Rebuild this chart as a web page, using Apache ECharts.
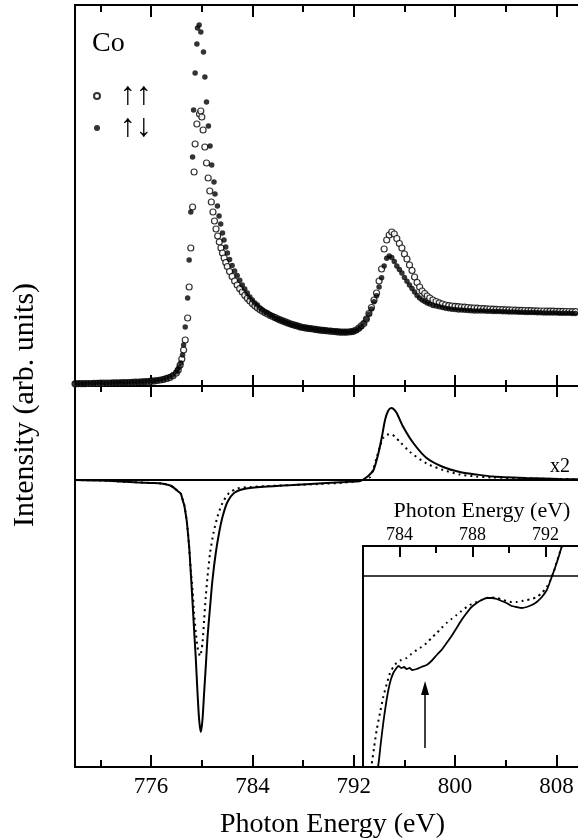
<!DOCTYPE html>
<html><head><meta charset="utf-8">
<script src="https://cdn.jsdelivr.net/npm/echarts@6/dist/echarts.min.js"></script>
<style>html,body{margin:0;padding:0;background:#fff}#c{width:578px;height:839px}</style>
</head><body><div id="c"></div>
<script>
const FONT = '"Liberation Serif","Times New Roman",serif';

// tick values (eV)
const energyTicksMajor = [776, 784, 792, 800, 808];
const energyTicksMinor = [772, 780, 788, 796, 804];
const insetTicksMajor = [784, 788, 792];
const insetTicksMinor = [786, 790];

// top panel: absorption, parallel (open circles)
const absUU = [
[770.00,2.2],[770.25,2.3],[770.50,2.3],[770.75,2.4],[771.00,2.5],[771.25,2.5],[771.50,2.6],[771.75,2.7],
[772.00,2.8],[772.25,2.8],[772.50,2.9],[772.75,3.0],[773.00,3.1],[773.25,3.2],[773.50,3.2],[773.75,3.3],
[774.00,3.4],[774.25,3.5],[774.50,3.6],[774.75,3.8],[775.00,3.9],[775.25,4.1],[775.50,4.3],[775.75,4.5],
[776.00,4.8],[776.25,5.1],[776.50,5.5],[776.75,6.0],[777.00,6.7],[777.25,7.6],[777.50,8.7],[777.75,10.4],
[778.00,13],[778.15,16],[778.30,21],[778.43,27],[778.57,36],[778.70,46],[778.89,68],[779.01,99],
[779.14,138],[779.28,179],[779.40,214],[779.48,242],[779.62,262],[779.83,272],[779.93,275],[780.01,269],
[780.11,256],[780.25,239],[780.38,223],[780.51,208],[780.64,195],[780.76,184],[780.89,174],[781.01,165],
[781.13,157],[781.26,150],[781.39,144],[781.52,138],[781.64,133],[781.77,128],[781.90,123.5],[782.02,119.5],
[782.2,114.5],[782.4,109.5],[782.6,105],[782.8,101],[783.0,97.3],[783.2,94],[783.4,90.7],[783.6,87.7],
[783.8,85],[784.0,82.4],[784.2,80.2],[784.4,78.2],[784.6,76.4],[784.8,74.8],[785.0,73.3],[785.2,72],
[785.4,70.7],[785.6,69.5],[785.8,68.3],[786.0,67.2],[786.2,66.1],[786.4,65.1],[786.6,64.1],[786.8,63.1],
[787.0,62.2],[787.2,61.3],[787.4,60.6],[787.6,59.8],[787.8,59.1],[788.0,58.5],[788.2,58.1],[788.4,57.7],
[788.6,57.4],[788.8,57.0],[789.0,56.6],[789.2,56.2],[789.4,55.9],[789.6,55.6],[789.8,55.3],[790.0,55.0],
[790.2,54.8],[790.4,54.5],[790.6,54.3],[790.8,54.1],[791.0,53.9],[791.2,53.9],[791.4,53.9],[791.6,54.0],
[791.8,54.3],[792.0,54.9],[792.2,56.0],[792.4,57.8],[792.6,60.2],[792.8,62.5],[793.0,67],[793.2,72.5],
[793.4,78.5],[793.6,86],[793.8,93],[794.0,105],[794.2,117],[794.4,137],[794.6,146],[794.8,151],
[795.0,154],[795.2,152],[795.4,147.5],[795.6,142.5],[795.8,138],[796.0,132],[796.2,127],[796.4,121],
[796.6,115.5],[796.8,109],[797.0,103.5],[797.2,99],[797.4,95],[797.6,92.5],[797.8,90],[798.0,88],
[798.25,86],[798.5,84.5],[798.75,83.2],[799.0,82],[799.25,81],[799.5,80.4],[799.75,80],[800.0,79.6],
[800.25,79.3],[800.5,79],[800.75,78.8],[801.0,78.5],[801.25,78.2],[801.5,78.0],[801.75,77.8],[802.0,77.5],
[802.25,77.3],[802.5,77.1],[802.75,77.0],[803.0,76.8],[803.25,76.7],[803.5,76.5],[803.75,76.4],[804.0,76.2],
[804.25,76.1],[804.5,76.0],[804.75,75.9],[805.0,75.7],[805.25,75.6],[805.5,75.5],[805.75,75.4],[806.0,75.3],
[806.25,75.2],[806.5,75.1],[806.75,75.0],[807.0,75.0],[807.25,74.9],[807.5,74.8],[807.75,74.8],[808.0,74.7],
[808.25,74.6],[808.5,74.6],[808.75,74.5],[809.0,74.5],[809.25,74.4],[809.5,74.4]
];

// top panel: absorption, antiparallel (filled dots)
const absUD = [
[770.00,2.4],[770.25,2.5],[770.50,2.5],[770.75,2.6],[771.00,2.7],[771.25,2.7],[771.50,2.8],[771.75,2.9],
[772.00,3.0],[772.25,3.0],[772.50,3.1],[772.75,3.2],[773.00,3.3],[773.25,3.4],[773.50,3.4],[773.75,3.5],
[774.00,3.6],[774.25,3.7],[774.50,3.8],[774.75,4.0],[775.00,4.1],[775.25,4.3],[775.50,4.5],[775.75,4.7],
[776.00,5.0],[776.25,5.3],[776.50,5.7],[776.75,6.3],[777.00,7.0],[777.25,8.0],[777.50,9.2],[777.75,11.0],
[778.00,14],[778.10,16],[778.22,19],[778.36,23],[778.49,31],[778.57,41],[778.70,59],[778.89,88],
[779.01,126],[779.14,174],[779.28,229],[779.36,276],[779.48,313],[779.62,342],[779.67,358],[779.80,361],
[779.93,354],[780.14,334],[780.25,309],[780.38,284],[780.53,260],[780.66,240],[780.79,221],[780.97,204],
[781.05,192],[781.24,180],[781.37,170],[781.50,162],[781.64,153],[781.76,146],[781.90,139],[782.03,133],
[782.2,126.5],[782.4,120.5],[782.6,115],[782.8,110.4],[783.0,105.8],[783.2,101],[783.4,97],[783.6,93],
[783.8,89],[784.0,86],[784.2,83],[784.4,81],[784.6,78],[784.8,76],[785.0,74],[785.2,73],
[785.4,71],[785.6,70],[785.8,68],[786.0,67],[786.2,66],[786.4,65],[786.6,64],[786.8,63],
[787.0,62],[787.2,61],[787.4,60.5],[787.6,59.7],[787.8,59],[788.0,58.6],[788.2,58.2],[788.4,57.8],
[788.6,57.5],[788.8,57.1],[789.0,56.7],[789.2,56.3],[789.4,56],[789.6,55.7],[789.8,55.4],[790.0,55.2],
[790.2,54.9],[790.4,54.7],[790.6,54.4],[790.8,54.2],[791.0,54],[791.2,54],[791.4,54],[791.6,54],
[791.8,54.2],[792.0,54.7],[792.2,55.8],[792.4,57.4],[792.6,59.5],[792.8,63],[793.0,67],[793.2,72],
[793.4,77],[793.6,84.3],[793.8,90.3],[794.0,99],[794.2,108.3],[794.4,120],[794.6,127.7],[794.8,130],
[795.0,128.5],[795.2,124.5],[795.4,120],[795.6,116.5],[795.8,113],[796.0,108.5],[796.2,104.7],[796.4,101],
[796.6,97.6],[796.8,94],[797.0,90.6],[797.2,88.1],[797.4,86],[797.6,84.4],[797.8,83],[798.0,82],
[798.25,80.6],[798.5,80],[798.75,79.2],[799.0,78.4],[799.25,77.8],[799.5,77.2],[799.75,76.8],[800.0,76.4],
[800.25,76.1],[800.5,75.9],[800.75,75.7],[801.0,75.5],[801.25,75.3],[801.5,75.1],[801.75,75.0],[802.0,75.0],
[802.25,74.9],[802.5,74.8],[802.75,74.7],[803.0,74.6],[803.25,74.5],[803.5,74.4],[803.75,74.3],[804.0,74.2],
[804.25,74.1],[804.5,74.0],[804.75,73.9],[805.0,73.8],[805.25,73.7],[805.5,73.6],[805.75,73.5],[806.0,73.4],
[806.25,73.4],[806.5,73.3],[806.75,73.2],[807.0,73.1],[807.25,73.1],[807.5,73.0],[807.75,72.9],[808.0,72.9],
[808.25,72.8],[808.5,72.8],[808.75,72.7],[809.0,72.7],[809.25,72.6],[809.5,72.6]
];

// lower panel: dichroism, experiment (solid)
const dichroSolid = [
[770.0,-0.5],[772.0,-1.0],[774.0,-2.3],[776.0,-3.5],[776.8,-4.0],[777.6,-6.5],[778.1,-11.5],[778.36,-14.5],
[778.49,-20.5],[778.62,-25.5],[778.75,-35.5],[778.83,-42.5],[779.01,-67.5],[779.14,-93.5],[779.28,-123.5],[779.40,-150.5],
[779.54,-180.5],[779.67,-213.5],[779.80,-240.5],[779.93,-252.5],[780.06,-240.5],[780.19,-213.5],[780.32,-187.5],[780.46,-157.5],
[780.66,-127.5],[780.85,-100.5],[781.11,-73.5],[781.37,-53.5],[781.64,-37.5],[782.03,-22.5],[782.55,-13.5],[783.33,-9.5],
[784.65,-7.5],[786.48,-6.0],[787.24,-5.5],[788.58,-4.5],[789.89,-3.5],[791.33,-2.5],[792.51,-1.5],[792.75,0],
[793.14,3.5],[793.56,9.5],[793.95,26.5],[794.22,42.5],[794.47,59.5],[794.71,68.5],[794.95,71.5],[795.14,70.5],
[795.39,66.5],[795.91,52.5],[796.70,36.5],[797.75,21.5],[799.06,12.5],[800.37,7.5],[801.68,5.0],[802.99,3.0],
[805.61,1.5],[808.23,0.5],[809.7,0.2]
];

// lower panel: dichroism, calculation (dotted)
const dichroDotted = [
[770.0,-0.5],[772.0,-1.0],[774.0,-2.3],[776.0,-3.5],[776.8,-4.0],[777.6,-6.5],[778.1,-11.5],[778.36,-14.5],
[778.62,-25.5],[778.83,-42.5],[779.01,-67.5],[779.14,-90.5],[779.28,-110.5],[779.40,-133.5],[779.54,-153.5],[779.67,-167.5],
[779.87,-176.5],[780.06,-163.5],[780.19,-140.5],[780.32,-117.5],[780.46,-97.5],[780.66,-73.5],[780.93,-53.5],[781.24,-37.5],
[781.64,-23.5],[782.16,-13.5],[782.82,-9.0],[783.86,-7.5],[785.17,-6.5],[787.27,-5.5],[789.36,-4.5],[791.33,-3.0],
[792.51,-1.5],[792.90,0],[793.30,2.5],[793.56,11.5],[793.82,22.5],[794.08,33.5],[794.32,41.5],[794.61,45.0],
[795.00,45.0],[795.34,41.5],[795.66,37.5],[796.44,27.5],[797.75,16.0],[799.06,9.5],[800.37,5.0],[801.68,3.0],
[802.99,2.0],[805.61,1.0],[808.23,0.5],[809.7,0.3]
];

// inset: magnified dichroism
const insetSolid = [
[782.70,-200],[782.84,-189],[782.97,-168],[783.11,-147],[783.25,-129],[783.39,-114],[783.52,-104],[783.66,-97],
[783.80,-93],[783.94,-90],[784.10,-92],[784.25,-91],[784.39,-93],[784.55,-92],[784.70,-94],[784.94,-93],
[785.20,-91],[785.49,-89],[785.75,-85],[786.04,-79],[786.30,-74],[786.58,-67],[786.85,-60],[787.13,-52],
[787.40,-44],[787.68,-37],[787.95,-31],[788.23,-27],[788.50,-24],[788.78,-22],[789.05,-22],[789.33,-23],
[789.60,-25],[789.87,-27],[790.15,-30],[790.42,-31],[790.70,-32],[790.97,-31],[791.25,-29],[791.52,-26],
[791.80,-21],[792.07,-14],[792.20,-8],[792.34,-1],[792.48,6],[792.61,13],[792.75,21],[792.88,29],[793.0,37]
];
const insetDotted = [
[782.35,-205],[782.47,-189],[782.61,-171],[782.75,-154],[782.93,-137],[783.11,-121],[783.30,-108],[783.48,-97],
[783.66,-91],[783.84,-87],[784.10,-84],[784.39,-82],[784.65,-78],[784.94,-74],[785.20,-71],[785.49,-67],
[785.75,-62],[786.04,-57],[786.30,-52],[786.58,-47],[786.85,-43],[787.13,-39],[787.40,-35],[787.68,-31],
[787.95,-28],[788.23,-26],[788.50,-24],[788.78,-22],[789.05,-21.5],[789.33,-22],[789.60,-23.5],[789.87,-25],
[790.15,-26],[790.42,-26],[790.70,-25],[790.97,-24],[791.25,-23],[791.52,-21],[791.80,-17],[792.07,-11],
[792.25,-5],[792.43,3],[792.56,11],[792.70,19],[792.88,29],[793.0,37]
];
const arrowMark = [[785.4,-172],[785.4,-112]];

const black = '#000';
function xAx(grid, pos, ticks, len, min, max, extra) {
  return Object.assign({
    type: 'value', gridIndex: grid, position: pos, min: min, max: max,
    axisLine: { show: true, onZero: false, lineStyle: { color: black, width: 2 } },
    axisTick: { show: true, inside: true, length: len, customValues: ticks, lineStyle: { color: black, width: 2 } },
    axisLabel: { show: false },
    splitLine: { show: false }
  }, extra || {});
}
const E0 = 770, E1 = 809.7, I0 = 782, I1 = 793.78;
const xAxes = [
  xAx(0, 'top', energyTicksMajor, 12, E0, E1),
  xAx(0, 'top', energyTicksMinor, 7, E0, E1),
  xAx(0, 'bottom', energyTicksMajor, 11, E0, E1),
  xAx(0, 'bottom', energyTicksMinor, 6, E0, E1),
  xAx(1, 'top', energyTicksMajor, 11, E0, E1),
  xAx(1, 'top', energyTicksMinor, 6, E0, E1),
  xAx(1, 'bottom', energyTicksMajor, 12, E0, E1, {
    axisLabel: { show: true, customValues: energyTicksMajor, margin: 8, color: black, fontSize: 23, fontFamily: FONT },
    name: 'Photon Energy (eV)', nameLocation: 'middle', nameGap: 44,
    nameTextStyle: { color: black, fontSize: 28, fontFamily: FONT, padding: [0, 0, 0, 12] }
  }),
  xAx(1, 'bottom', energyTicksMinor, 7, E0, E1),
  xAx(2, 'top', insetTicksMajor, 11, I0, I1, {
    axisLabel: { show: true, customValues: insetTicksMajor, margin: 2, color: black, fontSize: 18, fontFamily: FONT },
    name: 'Photon Energy (eV)', nameLocation: 'middle', nameGap: 24,
    nameTextStyle: { color: black, fontSize: 22, fontFamily: FONT, padding: [0, 0, 0, 23] }
  }),
  xAx(2, 'top', insetTicksMinor, 7, I0, I1)
];
function yAx(grid, min, max) {
  return {
    type: 'value', gridIndex: grid, min: min, max: max,
    axisLine: { show: true, onZero: false, lineStyle: { color: black, width: 2 } },
    axisTick: { show: false }, axisLabel: { show: false }, splitLine: { show: false }
  };
}

const chart = echarts.init(document.getElementById('c'), null, { renderer: 'canvas' });
chart.setOption({
  animation: false,
  backgroundColor: '#fff',
  grid: [
    { left: 75, top: 5, width: 503, height: 381, outerBoundsMode: 'none' },
    { left: 75, top: 386, width: 503, height: 381, outerBoundsMode: 'none' },
    { left: 363, top: 546, width: 215, height: 221, outerBoundsMode: 'none' }
  ],
  xAxis: xAxes,
  yAxis: [yAx(0, 0, 381), yAx(1, -287.5, 93.5), yAx(2, -191, 30)],
  legend: {
    orient: 'vertical', left: 88, top: 75, itemWidth: 36, itemHeight: 6, itemGap: 0,
    selectedMode: false, data: ['↑↑', '↑↓'],
    textStyle: { color: black, fontSize: 32, lineHeight: 32, fontFamily: FONT }
  },
  graphic: [
    { type: 'text', x: 92, y: 44, style: { text: 'Co', font: '28px ' + FONT, fill: black, verticalAlign: 'middle', textVerticalAlign: 'middle' } },
    { type: 'text', x: 560, y: 467, style: { text: 'x2', font: '20px ' + FONT, fill: black, align: 'center', textAlign: 'center', verticalAlign: 'middle', textVerticalAlign: 'middle' } },
    { type: 'text', x: 25, y: 405, rotation: Math.PI / 2, style: { text: 'Intensity (arb. units)', font: '30px ' + FONT, fill: black, align: 'center', textAlign: 'center', verticalAlign: 'middle', textVerticalAlign: 'middle' } }
  ],
  series: [
    { name: '↑↑', type: 'scatter', xAxisIndex: 0, yAxisIndex: 0, data: absUU, symbol: 'circle', symbolSize: 6,
      itemStyle: { color: '#fff', borderColor: black, borderWidth: 1.2 }, silent: true },
    { name: '↑↓', type: 'scatter', xAxisIndex: 0, yAxisIndex: 0, data: absUD, symbol: 'circle', symbolSize: 5.5,
      itemStyle: { color: black }, silent: true },
    { type: 'line', xAxisIndex: 6, yAxisIndex: 1, data: dichroSolid, showSymbol: false, smooth: 0.25, silent: true,
      lineStyle: { color: black, width: 2 },
      markLine: { silent: true, symbol: 'none', label: { show: false }, lineStyle: { color: black, width: 2, type: 'solid' }, data: [{ yAxis: 0 }] } },
    { type: 'line', xAxisIndex: 6, yAxisIndex: 1, data: dichroDotted, showSymbol: false, smooth: 0.25, silent: true,
      lineStyle: { color: black, width: 2, type: [2, 4] } },
    { type: 'line', xAxisIndex: 8, yAxisIndex: 2, data: insetSolid, showSymbol: false, smooth: 0.2, silent: true,
      lineStyle: { color: black, width: 1.8 },
      markLine: { silent: true, symbol: ['none', 'triangle'], symbolSize: [8, 14], label: { show: false },
        lineStyle: { color: black, width: 1.5, type: 'solid' },
        data: [[{ coord: arrowMark[0] }, { coord: arrowMark[1] }]] } },
    { type: 'line', xAxisIndex: 8, yAxisIndex: 2, data: insetDotted, showSymbol: false, smooth: 0.2, silent: true,
      lineStyle: { color: black, width: 2, type: [2, 4] },
      markLine: { silent: true, symbol: 'none', label: { show: false }, lineStyle: { color: black, width: 1.5, type: 'solid' }, data: [{ yAxis: 0 }] } }
  ]
});
</script></body></html>
